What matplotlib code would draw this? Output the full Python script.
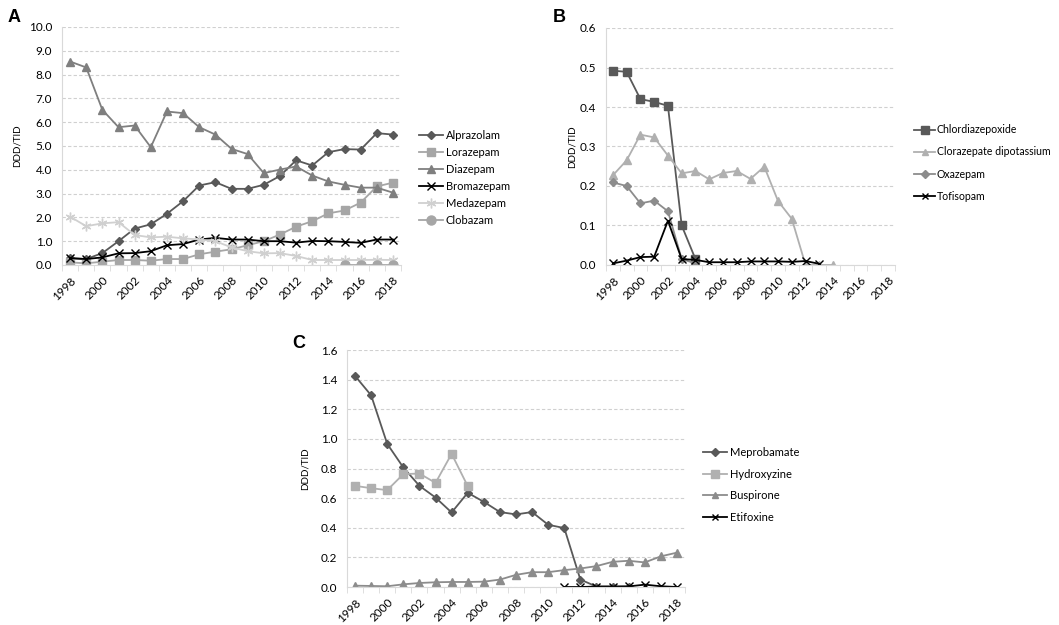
import matplotlib
matplotlib.use('Agg')
import matplotlib.pyplot as plt
import numpy as np

nan = np.nan
years = list(range(1998, 2019))

# panel A
alprazolam = [0.28, 0.25, 0.5, 1.0, 1.53, 1.71, 2.15, 2.68, 3.34, 3.48, 3.2, 3.2, 3.37, 3.74, 4.4, 4.18, 4.74, 4.87, 4.85, 5.54, 5.48]
lorazepam = [0.11, 0.07, 0.14, 0.21, 0.21, 0.18, 0.25, 0.25, 0.45, 0.56, 0.66, 0.83, 1.0, 1.28, 1.61, 1.84, 2.17, 2.29, 2.62, 3.3, 3.46]
diazepam = [8.55, 8.3, 6.52, 5.79, 5.86, 4.95, 6.45, 6.38, 5.79, 5.48, 4.88, 4.66, 3.86, 4.01, 4.14, 3.76, 3.51, 3.37, 3.25, 3.25, 3.04]
bromazepam = [0.29, 0.25, 0.32, 0.49, 0.5, 0.58, 0.83, 0.88, 1.07, 1.14, 1.07, 1.07, 1.0, 1.0, 0.94, 1.01, 1.0, 0.97, 0.93, 1.07, 1.07]
medazepam = [2.03, 1.63, 1.75, 1.8, 1.26, 1.16, 1.19, 1.12, 1.07, 1.0, 0.74, 0.58, 0.49, 0.5, 0.38, 0.21, 0.21, 0.21, 0.21, 0.22, 0.21]
clobazam = [nan] * 17 + [0.01, 0.01, 0.01, 0.01]

# panel B
chlordiazepoxide = [0.492, 0.489, 0.42, 0.413, 0.403, 0.1, 0.015] + [nan] * 14
clorazepate = [0.227, 0.265, 0.33, 0.323, 0.277, 0.232, 0.238, 0.217, 0.233, 0.238, 0.218, 0.249, 0.162, 0.117, 0.0, 0.0, 0.0] + [nan] * 4
oxazepam = [0.209, 0.2, 0.156, 0.163, 0.136, 0.015, 0.004] + [nan] * 14
tofisopam = [0.004, 0.011, 0.02, 0.021, 0.112, 0.015, 0.013, 0.007, 0.007, 0.007, 0.009, 0.009, 0.009, 0.008, 0.01, 0.003] + [nan] * 5

# panel C
meprobamate = [1.425, 1.294, 0.966, 0.807, 0.683, 0.604, 0.503, 0.636, 0.575, 0.506, 0.49, 0.506, 0.42, 0.398, 0.05, 0.003, 0.003, 0.003] + [nan] * 3
hydroxyzine = [0.683, 0.667, 0.654, 0.762, 0.766, 0.703, 0.899, 0.681] + [nan] * 13
buspirone = [0.009, 0.007, 0.005, 0.018, 0.027, 0.032, 0.034, 0.034, 0.036, 0.05, 0.082, 0.1, 0.1, 0.114, 0.125, 0.141, 0.17, 0.177, 0.166, 0.207, 0.232]
etifoxine = [nan] * 13 + [0.0, 0.0, 0.003, 0.003, 0.004, 0.016, 0.005, 0.0]

plt.rcParams['font.family'] = ['Lato', 'DejaVu Sans']

W, H = 1059, 625
fig = plt.figure(figsize=(W / 100, H / 100), dpi=100)

x = np.arange(len(years))
star = (6, 2, 0)


def make_ax(l, r, t, b, ymax, step, fmt):
    ax = fig.add_axes([l / W, 1 - b / H, (r - l) / W, (b - t) / H])
    ax.set_xlim(-0.5, len(years) - 0.5)
    ax.set_ylim(0, ymax)
    ticks = np.arange(0, ymax + step / 2, step)
    ax.set_yticks(ticks)
    ax.set_yticklabels([fmt % v for v in ticks])
    ax.set_xticks(x[::2])
    ax.set_xticklabels([str(y) for y in years[::2]], rotation=45, ha='right', rotation_mode='anchor')
    ax.set_xticks(np.arange(-0.5, len(years), 1), minor=True)
    ax.tick_params(axis='x', which='major', length=0, labelsize=8.5, pad=7)
    ax.tick_params(axis='x', which='minor', length=4, color='#d9d9d9')
    ax.tick_params(axis='y', length=0, labelsize=8.5, pad=7)
    for s in ['top', 'right']:
        ax.spines[s].set_visible(False)
    for s in ['left', 'bottom']:
        ax.spines[s].set_color('#d9d9d9')
    ax.grid(axis='y', color='#d0d0d0', linestyle=(0, (3, 2)), linewidth=0.8)
    ax.set_axisbelow(True)
    ax.set_ylabel('DDD/TID', fontsize=7)
    return ax


def series(ax, y, label, color, marker, ms):
    ax.plot(x, y, color=color, marker=marker, markersize=ms, linewidth=1.3,
            markerfacecolor=color, markeredgecolor=color, label=label)


# A
axA = make_ax(62, 401, 27, 265, 10, 1, '%.1f')
series(axA, alprazolam, 'Alprazolam', '#595959', 'D', 4.5)
series(axA, lorazepam, 'Lorazepam', '#a6a6a6', 's', 6)
series(axA, diazepam, 'Diazepam', '#7f7f7f', '^', 6)
series(axA, bromazepam, 'Bromazepam', '#000000', 'x', 6)
series(axA, medazepam, 'Medazepam', '#d0d0d0', star, 7)
series(axA, clobazam, 'Clobazam', '#a6a6a6', 'o', 6.5)
axA.yaxis.set_label_coords(-0.12, 0.5)
axA.legend(loc='center left', bbox_to_anchor=(419 / W, 1 - 178 / H), bbox_transform=fig.transFigure,
           frameon=False, fontsize=8, handlelength=2.2, handletextpad=0.2, labelspacing=0.55,
           borderpad=0, borderaxespad=0)
fig.text(8 / W, 1 - 18 / H, 'A', fontsize=13, fontweight='bold', family='Liberation Sans', va='center')

# B
axB = make_ax(606, 895, 28, 265, 0.6, 0.1, '%.1f')
series(axB, chlordiazepoxide, 'Chlordiazepoxide', '#595959', 's', 6)
series(axB, clorazepate, 'Clorazepate dipotassium', '#b0b0b0', '^', 5.5)
series(axB, oxazepam, 'Oxazepam', '#8c8c8c', 'D', 4)
series(axB, tofisopam, 'Tofisopam', '#000000', 'x', 5.5)
axB.yaxis.set_label_coords(-0.1, 0.5)
axB.legend(loc='center left', bbox_to_anchor=(914 / W, 1 - 163 / H), bbox_transform=fig.transFigure,
           frameon=False, fontsize=7.6, handlelength=2.0, handletextpad=0.15, labelspacing=1.05,
           borderpad=0, borderaxespad=0, markerscale=0.9)
fig.text(553 / W, 1 - 18 / H, 'B', fontsize=13, fontweight='bold', family='Liberation Sans', va='center')

# C
axC = make_ax(347, 685, 350, 587, 1.6, 0.2, '%.1f')
series(axC, meprobamate, 'Meprobamate', '#595959', 'D', 4)
series(axC, hydroxyzine, 'Hydroxyzine', '#b0b0b0', 's', 6)
series(axC, buspirone, 'Buspirone', '#8c8c8c', '^', 5.5)
series(axC, etifoxine, 'Etifoxine', '#000000', 'x', 5.5)
axC.yaxis.set_label_coords(-0.11, 0.5)
axC.legend(loc='center left', bbox_to_anchor=(703 / W, 1 - 485 / H), bbox_transform=fig.transFigure,
           frameon=False, fontsize=8, handlelength=2.2, handletextpad=0.2, labelspacing=0.95,
           borderpad=0, borderaxespad=0, markerscale=0.9)
fig.text(292 / W, 1 - 343 / H, 'C', fontsize=13, fontweight='bold', family='Liberation Sans', va='center')

fig.savefig('out.png', dpi=100, facecolor='white')
